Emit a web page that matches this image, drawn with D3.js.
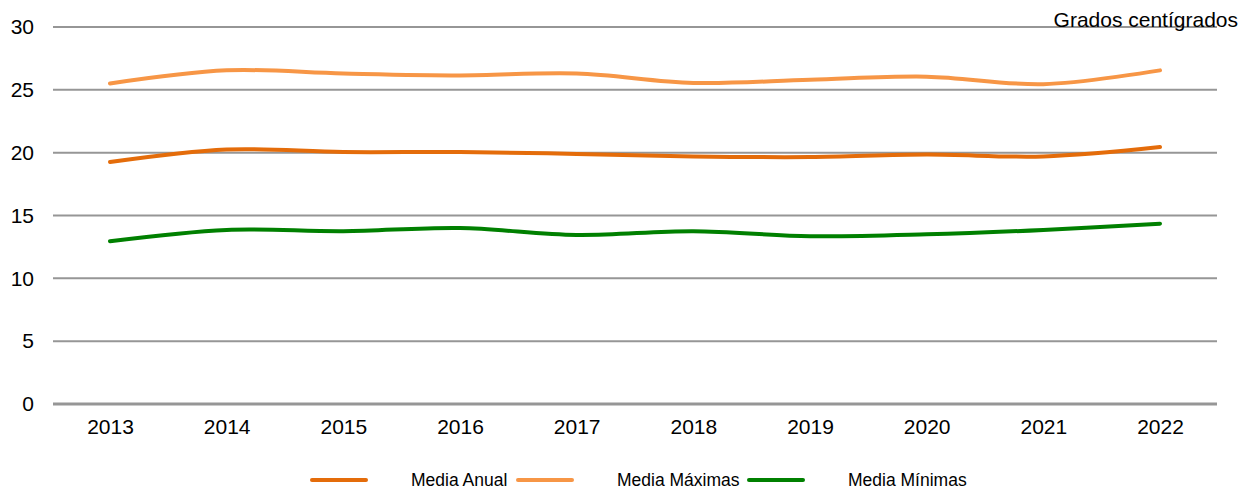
<!DOCTYPE html>
<html><head><meta charset="utf-8">
<script src="https://cdn.jsdelivr.net/npm/d3@7"></script>
<style>body{margin:0;background:#fff}svg{display:block;font-family:"Liberation Sans",Arial,sans-serif}</style>
</head><body><svg id="c" width="1250" height="496"></svg>
<script>
const years = ["2013","2014","2015","2016","2017","2018","2019","2020","2021","2022"];
const mediaAnual = [19.25, 20.25, 20.05, 20.05, 19.9, 19.7, 19.65, 19.85, 19.7, 20.45];
const mediaMaximas = [25.5, 26.55, 26.3, 26.15, 26.3, 25.55, 25.8, 26.05, 25.45, 26.55];
const mediaMinimas = [12.95, 13.85, 13.75, 14.0, 13.45, 13.75, 13.35, 13.5, 13.85, 14.35];
const yTicks = [0,5,10,15,20,25,30];
const seriesNames = ["Media Anual","Media Máximas","Media Mínimas"];
const colors = ["#E46C0A","#F79646","#008000"];

const svg = d3.select("#c");
const x = d3.scalePoint().domain(years).range([110,1160]);
const y = d3.scaleLinear().domain([0,30]).range([404,27]);

const grid = svg.append("g");
grid.selectAll("line").data(yTicks).join("line")
  .attr("x1",53).attr("x2",1217)
  .attr("y1",d=>y(d)).attr("y2",d=>y(d))
  .attr("stroke","#969696").attr("stroke-width",d=>d===0?3:2);

const yAxis = d3.axisLeft(y).tickValues(yTicks).tickSize(0).tickPadding(0);
svg.append("g").attr("transform","translate(34,0)").call(yAxis)
  .call(g=>g.select(".domain").remove())
  .selectAll("text").attr("font-size",21).attr("fill","#000").attr("font-family","Liberation Sans, Arial, sans-serif");

const xAxis = d3.axisBottom(x).tickSize(0).tickPadding(0);
svg.append("g").attr("transform","translate(0,419)").call(xAxis)
  .call(g=>g.select(".domain").remove())
  .selectAll("text").attr("font-size",21).attr("fill","#000").attr("font-family","Liberation Sans, Arial, sans-serif");

const data = [mediaAnual, mediaMaximas, mediaMinimas];
const line = d3.line().x((d,i)=>x(years[i])).y(d=>y(d)).curve(d3.curveCatmullRom.alpha(0.5));
[1,0,2].forEach(k=>{
  svg.append("path").attr("d",line(data[k])).attr("fill","none")
    .attr("stroke",colors[k]).attr("stroke-width",4).attr("stroke-linecap","round");
});

svg.append("text").attr("x",1238).attr("y",27).attr("text-anchor","end")
  .attr("font-size",21).attr("fill","#000").text("Grados centígrados");

const legX = [312, 518, 749];
const leg = svg.append("g");
seriesNames.forEach((n,i)=>{
  leg.append("line").attr("x1",legX[i]).attr("x2",legX[i]+54).attr("y1",480).attr("y2",480)
    .attr("stroke",colors[i]).attr("stroke-width",4).attr("stroke-linecap","round");
  leg.append("text").attr("x",legX[i]+99).attr("y",486).attr("font-size",17.5)
    .attr("fill","#000").text(n);
});
</script></body></html>
